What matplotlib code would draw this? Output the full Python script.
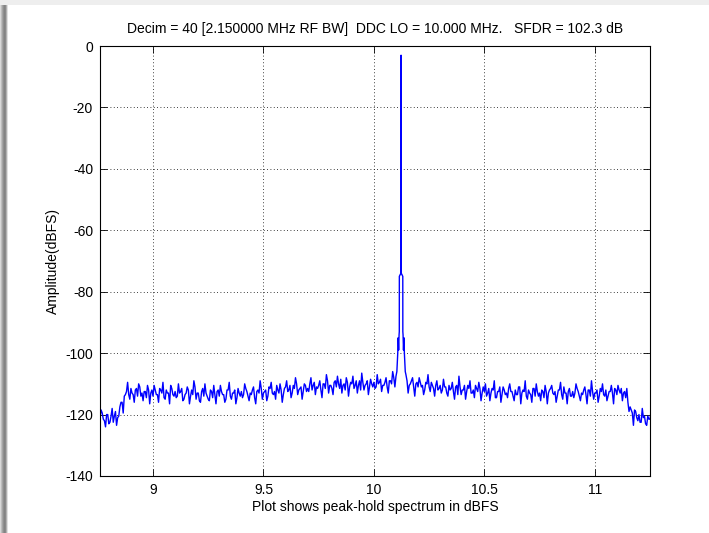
#!/usr/bin/env python3
"""
Peak-hold DDC spectrum plot (MATLAB style)
"""

import numpy as np
import matplotlib.pyplot as plt
from matplotlib.patches import Rectangle

# frequency bins (MHz): main bins every 0.01 MHz plus the half-way bins
freq_start = 8.76
freq_step = 0.01
freq_count = 250

# noise floor, dBFS, one row per 0.1 MHz (bins at 8.76, 8.77, ...)
noise_db = [
    -121, -119.5, -122, -120,
    -123, -120.5, -122.5, -119, -121, -117.5, -116, -114, -112.5, -113.5,
    -111.5, -113.5, -112, -114, -111, -113, -112.5, -114.5, -112, -113,
    -114, -112, -113.5, -111.5, -113, -114.5, -112, -113, -110.5, -113.5,
    -112.5, -114, -113, -111.5, -115, -113, -112, -114, -113.5, -111,
    -113, -115.5, -112.5, -114, -113, -115, -112, -114.5, -113.5, -112.5,
    -114, -112.5, -113.5, -115, -112, -114, -113, -112, -114.5, -113,
    -112.5, -113.5, -111.5, -114, -113, -112, -114.5, -112.5, -113, -111.5,
    -113, -112, -114, -111.5, -113, -112.5, -110.5, -113, -112, -113.5,
    -111, -112.5, -110.5, -113, -111.5, -110, -112, -111, -112.5, -110.5,
    -111.5, -110, -112, -109.5, -111, -110.5, -112, -110, -111.5, -109,
    -110.5, -111.5, -109.5, -111, -110, -108.5, -110.5, -112, -109.5, -111,
    -110, -111.5, -109, -110.5, -112, -109.5, -110.5, -109, -111, -110,
    -109.5, -111, -110, -108.5, -110.5, -109.5, -111, -109, -110, -108,
    -107.5, -106, -105, -106, -105, -109, -110.5, -109, -111, -110,
    -111, -109.5, -110.5, -112, -110, -111, -109.5, -111.5, -110.5, -112,
    -110.5, -112, -111, -113, -110.5, -111.5, -112.5, -111, -113.5, -111,
    -112, -110.5, -112.5, -111.5, -113, -112, -110.5, -112.5, -111.5, -113,
    -112.5, -114, -111.5, -113, -112, -114.5, -112.5, -111, -113.5, -112,
    -113, -111.5, -112.5, -114, -112, -113.5, -111, -113, -112.5, -114,
    -112, -113.5, -111.5, -114, -112.5, -113, -112, -114.5, -112.5, -113,
    -111.5, -113, -112.5, -114, -112, -113.5, -111, -113, -112.5, -114,
    -112.5, -113, -111.5, -114, -113, -112, -113.5, -112, -114, -112.5,
    -113, -112, -114, -112.5, -113.5, -112, -114, -112.5, -113, -111.5,
    -113.5, -112, -111.5, -113, -114.5, -116, -117.5, -119.5, -118.5, -121,
    -120, -122.5, -121, -123, -120.5, -121.5,
]

# half-way bins (8.765, 8.775, ...)
noise_mid_db = [
    -118.5, -121.5, -124, -120,
    -122.5, -118, -120.5, -123.5, -120.5, -116, -119.5, -113.5, -109.5, -115,
    -113, -116, -111.5, -110, -114, -115.5, -112.5, -110.5, -116.5, -112,
    -110.5, -113.5, -116, -112, -109.5, -115, -113, -116.5, -111.5, -114,
    -114.5, -110, -112.5, -115.5, -113.5, -111, -116.5, -112, -109, -115,
    -113, -116, -111.5, -110, -114, -115.5, -112.5, -110.5, -116.5, -112,
    -110.5, -113.5, -116, -112, -109.5, -115, -113, -116.5, -111.5, -114,
    -114.5, -110, -112.5, -115.5, -113.5, -111, -116.5, -112, -109, -115,
    -112.5, -115.5, -111, -109.5, -113.5, -115, -112, -110, -116, -111.5,
    -109, -112, -114.5, -110.5, -108, -113.5, -111.5, -115, -110, -112.5,
    -112.5, -108, -110.5, -113.5, -111.5, -109, -114.5, -110, -107, -113,
    -110.5, -113.5, -109, -107.5, -111.5, -113, -110, -108, -114, -109.5,
    -107.5, -110.5, -113, -109, -106.5, -112, -110, -113.5, -108.5, -111,
    -111.5, -107, -109.5, -112.5, -110.5, -108, -113, -109, -106, -111,
    -105, -104, -104, -104, -107, -113, -110, -108, -114, -109.5,
    -108, -111, -113.5, -109.5, -107, -112.5, -110.5, -114, -109, -111.5,
    -113, -108.5, -111, -114, -112, -109.5, -115, -110.5, -107.5, -113.5,
    -112, -115, -110.5, -109, -113, -114.5, -111.5, -109.5, -115.5, -111,
    -110, -113, -115.5, -111.5, -109, -114.5, -112.5, -116, -111, -113.5,
    -114.5, -110, -112.5, -115.5, -113.5, -111, -116.5, -112, -109, -115,
    -113, -116, -111.5, -110, -114, -115.5, -112.5, -110.5, -116.5, -112,
    -110.5, -113.5, -116, -112, -109.5, -115, -113, -116.5, -111.5, -114,
    -114.5, -110, -112.5, -115.5, -113.5, -111, -116.5, -112, -109, -115,
    -113, -116, -111.5, -110, -114, -115.5, -112.5, -110.5, -116.5, -112,
    -110.5, -113, -115.5, -112.5, -111.5, -119, -118.5, -123.5, -119, -122,
    -122.5, -118, -120.5, -123.5, -121.5, -119,
]

# carrier and its skirt
peak_freq = [10.104, 10.108, 10.110, 10.112, 10.114, 10.115, 10.1152, 10.122,
             10.123, 10.124, 10.1308, 10.131, 10.132, 10.134, 10.136, 10.138, 10.142]
peak_db = [-106, -100, -95, -99, -94, -93, -75, -74,
           -3, -74, -75, -93, -94, -99, -95, -100, -106]

title_txt = 'Decim = 40 [2.150000 MHz RF BW]  DDC LO = 10.000 MHz.   SFDR = 102.3 dB'
xticks = [9, 9.5, 10, 10.5, 11]
xtick_labels = ['9', '9.5', '10', '10.5', '11']
yticks = [0, -20, -40, -60, -80, -100, -120, -140]


def main():
    plt.rcParams['font.family'] = ['Liberation Sans', 'DejaVu Sans']
    plt.rcParams['font.size'] = 10
    plt.rcParams['axes.unicode_minus'] = False

    freq = np.round(freq_start + freq_step * np.arange(freq_count), 3)
    freq_mid = np.round(freq + freq_step / 2, 4)
    f_noise = np.concatenate([freq, freq_mid])
    a_noise = np.concatenate([noise_db, noise_mid_db]).astype(float)
    keep = (f_noise < peak_freq[0]) | (f_noise > peak_freq[-1])
    f_all = np.concatenate([f_noise[keep], peak_freq])
    a_all = np.concatenate([a_noise[keep], peak_db])
    order = np.argsort(f_all)
    f_all, a_all = f_all[order], a_all[order]

    fig = plt.figure(figsize=(7.09, 5.33), dpi=100)
    fig.patch.set_facecolor('white')

    # window shadow round the screenshot
    fig.patches.append(Rectangle((0, 0.99), 1, 0.01, transform=fig.transFigure,
                                 facecolor='#eeeeee', edgecolor='none', zorder=0))
    greys = ['#d8d8d8', '#bdbdbd', '#a4a4a4', '#909090', '#838383', '#8a8a8a', '#b0b0b0', '#e0e0e0']
    for i, g in enumerate(greys):
        fig.patches.append(Rectangle((i / 709, 0), 1 / 709, 0.99, transform=fig.transFigure,
                                     facecolor=g, edgecolor='none', zorder=0))

    ax = fig.add_axes([100 / 709, 1 - 476 / 533, 550 / 709, 430 / 533])
    ax.plot(f_all, a_all, color='#0000ff', lw=1.0)

    ax.set_xlim(8.76, 11.25)
    ax.set_ylim(-140, 0)
    ax.set_xticks(xticks)
    ax.set_xticklabels(xtick_labels)
    ax.set_yticks(yticks)
    ax.grid(True, color='black', linestyle=(0, (1, 3)), linewidth=0.6)
    ax.tick_params(direction='in', top=True, right=True, length=5, width=0.6,
                   labelsize=10, pad=5)
    for s in ax.spines.values():
        s.set_linewidth(0.8)

    ax.set_title(title_txt, fontsize=10, pad=9)
    ax.set_xlabel('Plot shows peak-hold spectrum in dBFS', fontsize=10, labelpad=2)
    ax.set_ylabel('Amplitude(dBFS)', fontsize=10, labelpad=4)

    fig.savefig('out.png', dpi=100)
    plt.close(fig)


if __name__ == "__main__":
    main()
